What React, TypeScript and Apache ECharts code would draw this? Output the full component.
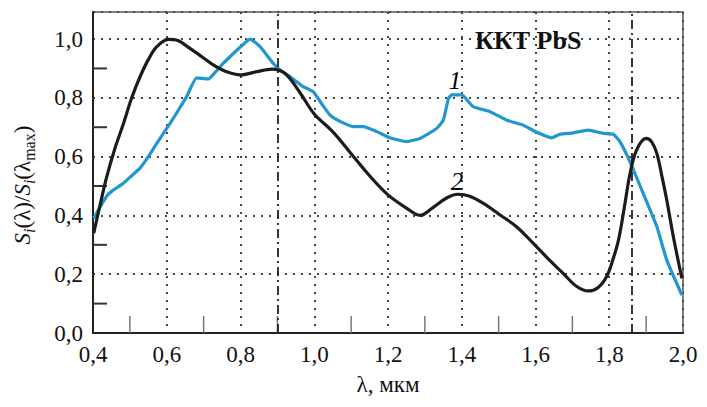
import React, { useEffect, useRef } from "react";
import * as echarts from "echarts";

// Curve 1 (blue)
const curve1X = [0.402, 0.42, 0.44, 0.455, 0.482, 0.505, 0.527, 0.55, 0.573, 0.609, 0.63, 0.654, 0.681, 0.713, 0.73, 0.753, 0.78, 0.799, 0.826, 0.853, 0.889, 0.91, 0.934, 0.97, 0.997, 1.02, 1.043, 1.07, 1.106, 1.133, 1.17, 1.205, 1.251, 1.287, 1.31, 1.332, 1.35, 1.364, 1.373, 1.4, 1.431, 1.477, 1.522, 1.567, 1.6, 1.644, 1.666, 1.703, 1.743, 1.784, 1.811, 1.829, 1.856, 1.892, 1.929, 1.956, 1.997];
const curve1Y = [0.39, 0.43, 0.47, 0.486, 0.509, 0.535, 0.56, 0.6, 0.645, 0.713, 0.755, 0.804, 0.868, 0.864, 0.885, 0.917, 0.95, 0.972, 1.0, 0.974, 0.917, 0.892, 0.872, 0.838, 0.821, 0.78, 0.741, 0.72, 0.702, 0.702, 0.685, 0.664, 0.651, 0.662, 0.678, 0.696, 0.724, 0.798, 0.81, 0.81, 0.77, 0.753, 0.724, 0.707, 0.685, 0.664, 0.676, 0.681, 0.69, 0.679, 0.676, 0.651, 0.583, 0.475, 0.362, 0.248, 0.129];

// Curve 2 (black)
const curve2X = [0.402, 0.42, 0.437, 0.46, 0.482, 0.505, 0.527, 0.55, 0.573, 0.604, 0.63, 0.663, 0.695, 0.726, 0.76, 0.799, 0.844, 0.885, 0.921, 0.96, 1.0, 1.05, 1.1, 1.15, 1.2, 1.25, 1.287, 1.32, 1.36, 1.39, 1.42, 1.46, 1.5, 1.55, 1.594, 1.64, 1.675, 1.71, 1.743, 1.77, 1.793, 1.81, 1.825, 1.84, 1.856, 1.874, 1.9, 1.915, 1.929, 1.945, 1.956, 1.975, 1.997];
const curve2Y = [0.34, 0.44, 0.53, 0.63, 0.71, 0.8, 0.87, 0.93, 0.974, 0.999, 0.995, 0.968, 0.94, 0.912, 0.89, 0.878, 0.889, 0.898, 0.883, 0.82, 0.745, 0.685, 0.61, 0.535, 0.47, 0.425, 0.4, 0.425, 0.46, 0.472, 0.466, 0.44, 0.405, 0.36, 0.305, 0.245, 0.203, 0.16, 0.143, 0.155, 0.192, 0.25, 0.316, 0.42, 0.54, 0.622, 0.662, 0.65, 0.611, 0.52, 0.452, 0.32, 0.186];

// Axes
const xMin = 0.4;
const xMax = 2.0;
const xStep = 0.2;
const yMin = 0;
const yMax = 1.092;
const yStep = 0.2;
const xMinorTicks = [0.5, 0.7, 0.9, 1.1, 1.3, 1.5, 1.7, 1.9];
const yMinorTicks = [0.1, 0.3, 0.5, 0.7, 0.9];

// Reference vertical lines (dash-dot)
const refLines = [0.9, 1.86];

// Curve labels
const curveLabels = [
  { text: "1", x: 1.382, y: 0.86 },
  { text: "2", x: 1.387, y: 0.514 },
];

const titleText = "ККТ PbS";
const xName = "λ, мкм";

const FONT = '"Liberation Serif", "Times New Roman", serif';

const fmt = (v: number) => v.toFixed(1).replace(".", ",");

export default function App() {
  const ref = useRef<HTMLDivElement>(null);
  useEffect(() => {
    if (!ref.current) return;
    const chart = echarts.init(ref.current, undefined, { renderer: "svg" });
    const zip = (xs: number[], ys: number[]) => xs.map((x, i) => [x, ys[i]]);
    const option: any = {
      animation: false,
      backgroundColor: "#ffffff",
      title: {
        text: titleText,
        left: 470,
        top: 22,
        textStyle: { fontFamily: FONT, fontWeight: "bold", fontSize: 26, color: "#111" },
      },
      grid: {
        left: 93,
        right: 24,
        top: 12,
        bottom: 74,
        show: true,
        borderColor: "#555",
        borderWidth: 1.5,
        backgroundColor: "transparent",
      },
      xAxis: {
        type: "value",
        min: xMin,
        max: xMax,
        interval: xStep,
        name: xName,
        nameLocation: "middle",
        nameGap: 40,
        nameTextStyle: { fontFamily: FONT, fontSize: 23, color: "#111" },
        axisLine: { show: true, onZero: false, lineStyle: { color: "#222", width: 2 } },
        axisTick: { show: false },
        axisLabel: { formatter: fmt, fontFamily: FONT, fontSize: 23, color: "#111", margin: 10 },
        splitLine: { show: true, lineStyle: { color: "#444", width: 2, type: [2, 6] } },
      },
      yAxis: {
        type: "value",
        min: yMin,
        max: yMax,
        interval: yStep,
        axisLine: { show: true, lineStyle: { color: "#222", width: 2 } },
        axisTick: { show: false },
        axisLabel: {
          formatter: fmt,
          fontFamily: FONT,
          fontSize: 23,
          color: "#111",
          margin: 10,
          showMaxLabel: false,
        },
        splitLine: { show: true, lineStyle: { color: "#444", width: 2, type: [2, 6] } },
      },
      graphic: [
        {
          type: "text",
          x: 22,
          y: 185,
          rotation: Math.PI / 2,
          style: {
            text: "{i|S}{sub|i}{n|(λ)/}{i|S}{sub|i}{n|(λ}{sm|max}{n|)}",
            align: "center",
            verticalAlign: "middle",
            fill: "#111",
            fontFamily: FONT,
            rich: {
              i: { fontFamily: FONT, fontSize: 23, fontStyle: "italic", lineHeight: 30, fill: "#111" },
              n: { fontFamily: FONT, fontSize: 23, lineHeight: 30, fill: "#111" },
              sub: { fontFamily: FONT, fontSize: 16, fontStyle: "italic", lineHeight: 14, verticalAlign: "bottom", fill: "#111" },
              sm: { fontFamily: FONT, fontSize: 16, lineHeight: 14, verticalAlign: "bottom", fill: "#111" },
            },
          },
        },
      ],
      series: [
        {
          type: "custom",
          silent: true,
          data: xMinorTicks.map((v) => [v, yMin]),
          encode: { x: 0, y: 1 },
          renderItem: (params: any, api: any) => {
            const p = api.coord([api.value(0), api.value(1)]);
            return {
              type: "line",
              shape: { x1: p[0], y1: p[1], x2: p[0], y2: p[1] - 17 },
              style: { stroke: "#777", lineWidth: 1.5 },
            };
          },
          z: 3,
        },
        {
          type: "custom",
          silent: true,
          data: yMinorTicks.map((v) => [xMin, v]),
          encode: { x: 0, y: 1 },
          renderItem: (params: any, api: any) => {
            const p = api.coord([api.value(0), api.value(1)]);
            return {
              type: "line",
              shape: { x1: p[0], y1: p[1], x2: p[0] + 14, y2: p[1] },
              style: { stroke: "#333", lineWidth: 2 },
            };
          },
          z: 3,
        },
        {
          name: "1",
          type: "line",
          data: zip(curve1X, curve1Y),
          showSymbol: false,
          smooth: 0.15,
          lineStyle: { color: "#2196cf", width: 3.2 },
          itemStyle: { color: "#2196cf" },
          z: 4,
          markLine: {
            silent: true,
            symbol: "none",
            label: { show: false },
            lineStyle: { color: "#222", width: 1.8, type: [9, 4, 2, 4] },
            data: refLines.map((v) => ({ xAxis: v })),
          },
        },
        {
          name: "2",
          type: "line",
          data: zip(curve2X, curve2Y),
          showSymbol: false,
          smooth: 0.35,
          lineStyle: { color: "#1c1c1c", width: 3.2 },
          itemStyle: { color: "#1c1c1c" },
          z: 5,
        },
        {
          type: "scatter",
          silent: true,
          symbolSize: 0,
          itemStyle: { opacity: 1, color: "#111" },
          data: curveLabels.map((c) => ({ value: [c.x, c.y], name: c.text })),
          label: {
            show: true,
            position: "inside",
            formatter: (p: any) => p.name,
            fontFamily: FONT,
            fontStyle: "italic",
            fontSize: 25,
            color: "#000",
            opacity: 1,
          },
          z: 6,
        },
      ],
    };
    chart.setOption(option);
    return () => chart.dispose();
  }, []);
  return (
    <div
      ref={ref}
      style={{ position: "absolute", left: 0, top: 0, width: 707, height: 407 }}
    />
  );
}
